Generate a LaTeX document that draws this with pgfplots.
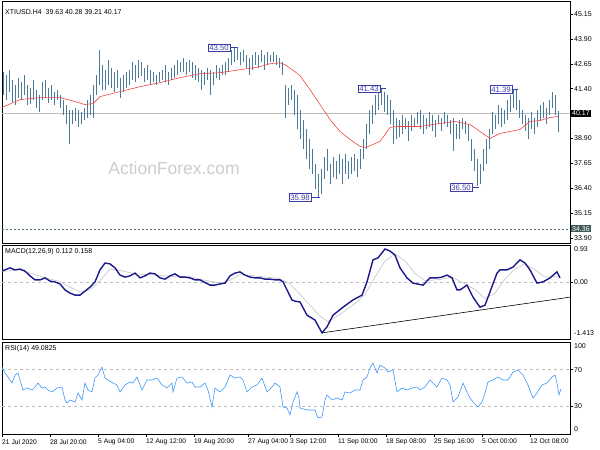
\documentclass[border=0pt]{standalone}
\usepackage{fontspec}
\setmainfont{Liberation Sans}
\usepackage{pgfplots}
\usepackage{pgfplotstable}
\pgfplotsset{compat=1.18}
\definecolor{barcol}{RGB}{74,124,154}
\definecolor{macol}{RGB}{240,70,70}
\definecolor{macdcol}{RGB}{25,25,140}
\definecolor{sigcol}{RGB}{195,195,195}
\definecolor{rsicol}{RGB}{60,150,250}
\definecolor{lvl}{RGB}{190,190,190}
\definecolor{boxcol}{RGB}{60,60,170}
\definecolor{dashcol}{RGB}{80,112,112}
\definecolor{wm}{RGB}{205,205,205}
\newcommand{\sm}{\fontsize{7}{8}\selectfont}
\newcommand{\bx}{\fontsize{7.8}{9}\selectfont}

\pgfplotstableread{
x lo hi
3 41.10 42.25
6 40.85 42.10
9 41.25 42.35
12 40.75 41.85
15 40.60 41.60
18 40.95 41.95
21 40.85 41.75
24 41.10 42.10
27 40.60 41.60
30 40.65 41.45
33 40.85 41.85
36 40.45 41.35
39 40.25 41.10
42 40.85 41.75
45 40.95 41.85
48 40.70 41.45
51 40.85 41.60
54 40.60 41.25
57 40.85 41.35
60 40.45 41.10
63 40.10 40.85
66 39.60 40.60
69 38.60 40.35
72 39.60 40.35
75 39.75 40.45
78 39.45 40.35
81 39.60 40.25
84 39.85 40.45
87 39.95 40.85
90 40.10 41.10
93 39.95 41.60
96 41.10 42.10
99 41.60 43.35
102 41.35 42.60
105 41.35 42.35
108 41.60 42.85
111 41.45 42.45
114 41.25 42.25
117 41.45 42.35
120 40.95 41.95
123 41.25 42.10
126 41.45 42.25
129 41.60 42.35
132 41.85 42.75
135 41.75 42.60
138 41.95 42.85
141 42.05 42.75
144 41.75 42.45
147 41.85 42.60
150 41.60 42.35
153 41.75 42.25
156 41.60 42.10
159 41.75 42.25
162 41.85 42.35
165 41.75 42.60
168 41.60 42.25
171 41.85 42.45
174 41.95 42.60
177 42.10 42.85
180 42.25 42.75
183 42.25 42.95
186 42.10 42.75
189 42.25 42.85
192 41.95 42.75
195 41.85 42.60
198 41.75 42.45
201 41.35 42.35
204 41.60 42.25
207 41.85 42.45
210 41.10 42.35
213 41.60 42.25
216 41.95 42.60
219 41.85 42.45
222 42.10 42.60
225 42.10 42.75
228 42.25 42.95
231 42.60 43.35
234 42.75 43.45
237 42.85 43.50
240 42.60 43.25
243 42.75 43.35
246 42.45 43.10
249 42.10 42.95
252 42.35 43.10
255 42.60 43.25
258 42.45 43.10
261 42.75 43.35
264 42.35 43.10
267 42.60 43.25
270 42.75 43.10
273 42.75 43.25
276 42.60 43.10
279 42.45 42.95
282 42.10 42.75
285 39.95 41.60
288 40.60 41.45
291 40.85 41.60
294 40.10 41.35
297 39.35 41.10
300 38.85 40.35
303 38.35 39.85
306 37.85 39.35
309 37.35 38.85
312 37.10 38.35
315 36.35 37.60
318 35.98 37.10
321 36.10 37.35
324 36.85 37.95
327 37.25 38.35
330 36.60 37.60
333 36.95 37.95
336 36.85 37.75
339 37.10 38.10
342 36.60 37.85
345 37.10 38.10
348 36.85 37.75
351 37.10 37.95
354 37.25 38.10
357 36.95 37.85
360 37.35 38.35
363 37.85 38.85
366 38.35 39.60
369 39.10 40.35
372 39.60 40.60
375 40.10 41.10
378 40.35 41.35
381 40.60 41.43
384 40.25 41.25
387 40.10 41.10
390 39.60 40.85
393 38.60 40.35
396 38.85 39.95
399 38.95 39.85
402 39.10 40.10
405 39.35 39.95
408 38.75 39.75
411 39.25 40.10
414 39.45 39.95
417 39.60 40.25
420 39.35 40.35
423 39.10 40.10
426 39.35 39.95
429 39.45 40.25
432 39.25 40.10
435 38.95 39.85
438 39.60 40.10
441 39.25 39.95
444 39.60 40.25
447 39.45 40.10
450 39.10 39.85
453 38.25 39.95
456 38.85 39.60
459 38.85 39.85
462 39.35 39.95
465 39.10 39.75
468 38.75 39.60
471 37.75 38.85
474 37.25 38.35
477 36.50 37.85
480 36.60 37.60
483 37.25 38.35
486 37.60 38.85
489 38.35 39.35
492 39.10 40.25
495 39.35 40.10
498 39.60 40.60
501 39.45 40.45
504 39.60 40.35
507 39.85 40.85
510 40.25 41.10
513 40.45 41.35
516 40.35 41.39
519 39.95 40.85
522 39.60 40.35
525 39.25 40.10
528 38.85 39.95
531 39.35 40.25
534 39.10 39.95
537 39.45 40.35
540 39.75 40.60
543 39.95 40.75
546 39.60 40.45
549 40.10 40.85
552 40.45 41.25
555 40.10 41.10
558 39.21 40.28
}\bars

\pgfplotstableread{
x y
2 40.45
20 40.85
40 40.95
60 40.95
75 40.75
85 40.60
93 40.65
100 41.00
120 41.25
140 41.50
160 41.70
180 41.95
200 42.15
220 42.20
240 42.35
260 42.50
270 42.65
280 42.70
285 42.60
295 42.25
300 42.05
310 41.35
320 40.60
330 39.85
340 39.25
350 38.85
360 38.50
366 38.45
380 38.75
390 39.45
397 39.50
420 39.50
440 39.65
455 39.75
470 39.60
480 39.25
490 38.90
500 39.15
510 39.25
520 39.35
530 39.75
540 39.80
550 39.95
558 40.00
}\ma

\pgfplotstableread{
x y
2 0.28
10 0.36
15 0.31
20 0.33
25 0.28
30 0.16
35 0.06
40 0.06
45 0.11
50 0.03
55 0.01
60 -0.04
65 -0.19
70 -0.27
75 -0.32
80 -0.32
85 -0.22
90 -0.12
95 0.01
100 0.31
105 0.48
110 0.46
115 0.36
120 0.18
125 0.13
130 0.16
135 0.23
140 0.11
145 0.16
150 0.23
155 0.21
160 0.11
165 0.08
170 0.16
175 0.21
180 0.13
185 0.13
190 0.11
195 0.06
200 0.06
210 -0.07
215 -0.07
220 -0.04
225 -0.02
230 0.16
235 0.23
240 0.26
245 0.18
250 0.13
255 0.11
260 0.11
265 0.08
270 0.08
275 0.06
280 0.06
283 0.01
288 -0.24
292 -0.44
295 -0.47
300 -0.49
307 -0.82
315 -0.94
322 -1.26
327 -1.11
333 -0.82
343 -0.62
353 -0.44
362 -0.32
367 0.01
373 0.56
378 0.61
385 0.83
390 0.78
395 0.68
400 0.36
407 0.11
413 -0.02
423 -0.07
430 0.11
437 0.11
442 0.13
447 0.18
452 0.11
457 -0.19
460 -0.19
467 -0.07
473 -0.37
480 -0.62
485 -0.57
490 -0.24
497 0.23
500 0.31
507 0.31
513 0.38
520 0.56
525 0.48
530 0.31
537 -0.02
543 0.01
550 0.11
557 0.26
560 0.11
}\macd

\pgfplotstableread{
x y
2 0.27
20 0.31
35 0.19
50 0.08
60 0.02
70 -0.12
80 -0.24
90 -0.19
100 0.04
110 0.33
120 0.30
135 0.21
150 0.19
170 0.15
190 0.14
205 0.05
220 -0.02
230 0.05
240 0.19
255 0.16
280 0.09
290 -0.04
300 -0.30
310 -0.57
320 -0.84
328 -0.98
340 -0.80
355 -0.53
365 -0.30
375 0.13
385 0.53
395 0.71
405 0.53
415 0.22
425 0.04
440 0.07
452 0.13
462 0.00
475 -0.18
485 -0.40
495 -0.27
505 0.09
515 0.33
525 0.46
535 0.31
545 0.13
555 0.14
560 0.16
}\signal

\pgfplotstableread{
x y
2 72.8
5 66.3
8 62.0
12 55.4
15 64.1
18 66.3
20 58.7
23 47.8
27 50.0
32 47.8
35 51.1
38 55.4
42 50.0
45 51.1
48 47.8
52 45.7
57 50.0
62 51.1
65 37.0
67 33.7
70 37.0
75 34.8
78 44.6
82 37.0
85 55.4
88 47.8
92 45.7
95 60.9
98 64.1
102 72.8
105 60.9
108 58.7
113 55.4
117 53.3
120 45.7
125 53.3
130 56.5
133 55.4
137 62.0
142 47.8
147 58.7
152 58.7
157 60.9
162 53.3
167 50.0
172 55.4
173 45.7
177 60.9
182 62.0
187 55.4
192 56.5
195 51.1
200 51.1
205 55.4
208 47.8
212 29.3
215 50.0
220 45.7
225 51.1
230 64.1
235 60.9
240 62.0
243 58.7
247 45.7
252 51.1
257 53.3
262 60.9
267 45.7
272 51.1
275 55.4
280 51.1
283 29.3
287 28.3
290 20.7
293 34.8
297 45.7
299 39.1
300 28.3
307 26.1
315 26.1
318 17.4
322 18.5
325 37.0
327 42.4
332 37.0
337 39.1
342 37.0
345 45.7
350 44.6
355 47.8
360 47.8
363 58.7
367 62.0
370 71.7
373 77.2
377 66.3
380 75.0
385 71.7
388 67.4
393 69.6
397 45.7
402 50.0
407 47.8
412 50.0
417 51.1
420 47.8
425 51.1
430 58.7
433 55.4
437 51.1
442 60.9
447 58.7
450 53.3
453 34.8
458 40.2
463 55.4
467 45.7
470 39.1
473 34.8
478 29.3
482 34.8
485 44.6
488 56.5
493 58.7
498 62.0
503 58.7
508 58.7
513 67.4
518 69.6
523 64.1
528 53.3
533 39.1
537 44.6
542 53.3
547 55.4
552 62.0
555 64.1
557 55.4
559 42.4
561 49.1
}\rsi

\begin{document}
\begin{tikzpicture}
\path[use as bounding box] (0pt,0pt) rectangle (600pt,450pt);
\pgfplotsset{
  panel/.style={
    scale only axis, width=568pt, xmin=2, xmax=570,
    anchor=south west, axis line style={black, line width=0.5pt},
    ytick pos=right, tick align=outside, major tick length=3pt,
    tick style={black, line width=0.4pt},
    yticklabel style={font=\sm, anchor=west, inner sep=0pt, xshift=1pt},
    /pgf/number format/assume math mode=true,
    /pgf/number format/fixed, /pgf/number format/precision=2,
    /pgf/number format/fixed zerofill,
    clip=false,
  }
}
% main panel
\begin{axis}[panel, at={(2pt,207pt)}, height=242pt, ymin=33.65, ymax=45.80,
  xtick=\empty, ytick={45.15,43.90,42.65,41.40,38.90,37.65,36.40,35.15,33.90}]
\node[font=\fontsize{17.5}{20}\selectfont, text=wm] at (axis cs:174,37.42) {ActionForex.com};
\addplot[lvl, line width=0.6pt, forget plot] coordinates {(2,40.17) (570,40.17)};
\addplot[dashcol, line width=0.5pt, dash pattern=on 2pt off 2pt, forget plot] coordinates {(2,34.36) (570,34.36)};
\addplot[draw=none, mark=none, forget plot,
  error bars/.cd, y dir=plus, y explicit, error mark=none,
  error bar style={barcol, line width=0.95pt}]
  table[x=x, y=lo, y error plus expr=\thisrow{hi}-\thisrow{lo}] {\bars};
\addplot[macol, line width=0.6pt] table[x=x,y=y] {\ma};
\node[anchor=north west, font=\sm, inner sep=0pt] at (rel axis cs:0,1) [xshift=3pt, yshift=-8pt] {XTIUSD.H4\ \ 39.63 40.28 39.21 40.17};
% annotations
\draw[boxcol, line width=0.5pt] (axis cs:230,43.50) -- (axis cs:238,43.50);
\node[anchor=east, draw=boxcol, fill=white, text=boxcol, font=\bx, inner sep=1pt] at (axis cs:230,43.45) {43.50};
\draw[boxcol, line width=0.5pt] (axis cs:380,41.43) -- (axis cs:386,41.43);
\node[anchor=east, draw=boxcol, fill=white, text=boxcol, font=\bx, inner sep=1pt] at (axis cs:380,41.40) {41.43};
\draw[boxcol, line width=0.5pt] (axis cs:512,41.39) -- (axis cs:518,41.39);
\node[anchor=east, draw=boxcol, fill=white, text=boxcol, font=\bx, inner sep=1pt] at (axis cs:512,41.36) {41.39};
\draw[boxcol, line width=0.5pt] (axis cs:311,35.94) -- (axis cs:320,35.94);
\node[anchor=east, draw=boxcol, fill=white, text=boxcol, font=\bx, inner sep=1pt] at (axis cs:311,35.94) {35.98};
\draw[boxcol, line width=0.5pt] (axis cs:472,36.44) -- (axis cs:479,36.44);
\node[anchor=east, draw=boxcol, fill=white, text=boxcol, font=\bx, inner sep=1pt] at (axis cs:472,36.44) {36.50};
\node[anchor=west, fill=black, text=white, font=\sm, inner sep=1pt] at (axis cs:570,40.17) [xshift=1pt] {40.17};
\node[anchor=west, fill=dashcol!80!black, text=white, font=\sm, inner sep=1pt] at (axis cs:570,34.36) [xshift=1pt] {34.36};
\end{axis}
% MACD panel
\begin{axis}[panel, at={(2pt,111pt)}, height=94pt, ymin=-1.413, ymax=0.93,
  xtick=\empty, ytick={0}]
\addplot[lvl, dashed, line width=0.5pt, forget plot] coordinates {(2,0) (570,0)};
\addplot[sigcol, line width=0.6pt] table[x=x,y=y] {\signal};
\addplot[macdcol, line width=1.4pt] table[x=x,y=y] {\macd};
\addplot[black, line width=0.6pt] coordinates {(322,-1.26) (570,-0.37)};
\node[anchor=north west, font=\sm, inner sep=0pt] at (rel axis cs:0,1) [xshift=3pt, yshift=-3pt] {MACD(12,26,9) 0.112 0.158};
\node[anchor=west, font=\sm, inner sep=0pt] at (rel axis cs:1,1) [xshift=4pt, yshift=-4pt] {0.93};
\node[anchor=west, font=\sm, inner sep=0pt] at (rel axis cs:1,0) [xshift=4pt, yshift=6pt] {-1.413};
\end{axis}
% RSI panel
\begin{axis}[panel, at={(2pt,16pt)}, height=92pt, ymin=0, ymax=100,
  ytick={30,70}, yticklabel style={/pgf/number format/precision=0},
  xtick={2,50,98,146,194,248,290,338,386,434,482,530},
  xticklabels={21 Jul 2020,28 Jul 20:00,5 Aug 04:00,12 Aug 12:00,19 Aug 20:00,27 Aug 04:00,3 Sep 12:00,11 Sep 00:00,18 Sep 08:00,25 Sep 16:00,5 Oct 00:00,12 Oct 08:00},
  xtick pos=bottom,
  xticklabel style={font=\fontsize{6.7}{8}\selectfont, anchor=north west, inner sep=0pt, yshift=-2pt}]
\addplot[lvl, dashed, line width=0.5pt, forget plot] coordinates {(2,30) (570,30)};
\addplot[lvl, dashed, line width=0.5pt, forget plot] coordinates {(2,70) (570,70)};
\addplot[rsicol, line width=0.6pt] table[x=x,y=y] {\rsi};
\node[anchor=north west, font=\sm, inner sep=0pt] at (rel axis cs:0,1) [xshift=3pt, yshift=-3pt] {RSI(14) 49.0825};
\node[anchor=west, font=\sm, inner sep=0pt] at (rel axis cs:1,1) [xshift=4pt, yshift=-4pt] {100};
\node[anchor=west, font=\sm, inner sep=0pt] at (rel axis cs:1,0) [xshift=4pt, yshift=5pt] {0};
\end{axis}
\end{tikzpicture}
\end{document}
